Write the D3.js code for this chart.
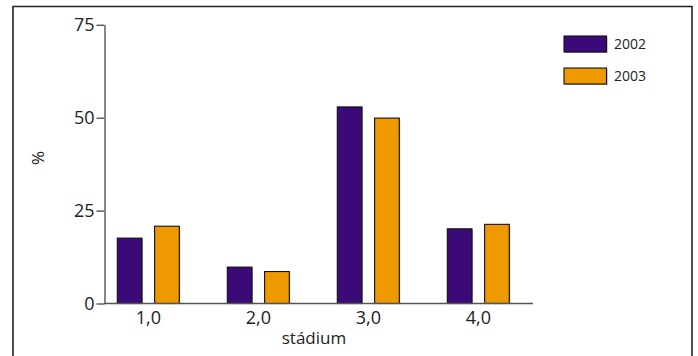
<!DOCTYPE html>
<html><head><meta charset="utf-8">
<script src="https://cdn.jsdelivr.net/npm/d3@7"></script>
<style>
body{margin:0;background:#fff;}
svg{display:block;font-family:"Open Sans",sans-serif;}
</style></head>
<body><svg id="c" width="698" height="356"></svg>
<script>
const categories = ["1,0", "2,0", "3,0", "4,0"];
const seriesNames = ["2002", "2003"];
const values2002 = [17.6, 9.8, 52.9, 20.1];
const values2003 = [20.8, 8.6, 49.9, 21.3];
const yTicks = [0, 25, 50, 75];
const colors = ["#3c0a78", "#ef9900"];
const xTitle = "stádium";
const yTitle = "%";

const svg = d3.select("#c");
const series = [values2002, values2003];

// frame
svg.append("path").attr("d", "M13,356 V6.5 H692 V356")
  .attr("fill", "none").attr("stroke", "#222").attr("stroke-width", 1.6);

const y = d3.scaleLinear().domain([0, 75]).range([303.5, 24.8]);
const x0 = d3.scaleBand().domain(categories).range([93.3, 533.3]).paddingInner(0).paddingOuter(0);
const x1 = d3.scaleBand().domain(seriesNames).range([-31, 31]).paddingInner(0.338);

// y axis
const yAxis = d3.axisLeft(y).tickValues(yTicks).tickSize(8).tickSizeOuter(0).tickPadding(2);
const gy = svg.append("g").attr("transform", "translate(104.5,0)").call(yAxis);
gy.select(".domain").attr("stroke", "#555").attr("stroke-width", 1.4);
gy.selectAll(".tick line").attr("stroke", "#555").attr("stroke-width", 1.4);
gy.selectAll(".tick text").attr("font-size", 18).attr("fill", "#222").attr("font-family", "Open Sans");

// bars
const groups = svg.append("g").selectAll("g").data(categories).join("g")
  .attr("transform", d => `translate(${x0(d) + x0.bandwidth() / 2},0)`);
seriesNames.forEach((s, si) => {
  // shadow
  groups.append("rect")
    .attr("x", (d) => x1(s) + 1)
    .attr("y", (d, i) => y(series[si][i]) + 1)
    .attr("width", x1.bandwidth())
    .attr("height", (d, i) => y(0) - y(series[si][i]) - 1)
    .attr("fill", "#bbb");
  groups.append("rect")
    .attr("x", x1(s))
    .attr("y", (d, i) => y(series[si][i]))
    .attr("width", x1.bandwidth())
    .attr("height", (d, i) => y(0) - y(series[si][i]))
    .attr("fill", colors[si]).attr("stroke", "#111").attr("stroke-width", 1.1);
});

// x axis
svg.append("line").attr("x1", 104).attr("x2", 533).attr("y1", y(0)).attr("y2", y(0))
  .attr("stroke", "#555").attr("stroke-width", 1.4);
const xAxis = d3.axisBottom(x0).tickSize(0).tickPadding(8);
const gx = svg.append("g").attr("transform", `translate(0,${y(0)})`).call(xAxis);
gx.select(".domain").remove();
gx.selectAll(".tick text").attr("font-size", 18).attr("fill", "#222").attr("font-family", "Open Sans");

// titles
svg.append("text").attr("x", 314).attr("y", 344).attr("text-anchor", "middle")
  .attr("font-size", 17).attr("fill", "#222").text(xTitle);
svg.append("text").attr("transform", "translate(44,158) rotate(-90)").attr("text-anchor", "middle")
  .attr("font-size", 17).attr("fill", "#222").text(yTitle);

// legend
const lg = svg.append("g").selectAll("g").data(seriesNames).join("g")
  .attr("transform", (d, i) => `translate(564,${36 + i * 32})`);
lg.append("rect").attr("x", 1).attr("y", 1).attr("width", 42.5).attr("height", 16).attr("fill", "#aaa");
lg.append("rect").attr("width", 42.5).attr("height", 16)
  .attr("fill", (d, i) => colors[i]).attr("stroke", "#111").attr("stroke-width", 1.1);
lg.append("text").attr("x", 50).attr("y", 8).attr("dy", "0.36em")
  .attr("font-size", 14).attr("fill", "#222").text(d => d);
</script></body></html>
